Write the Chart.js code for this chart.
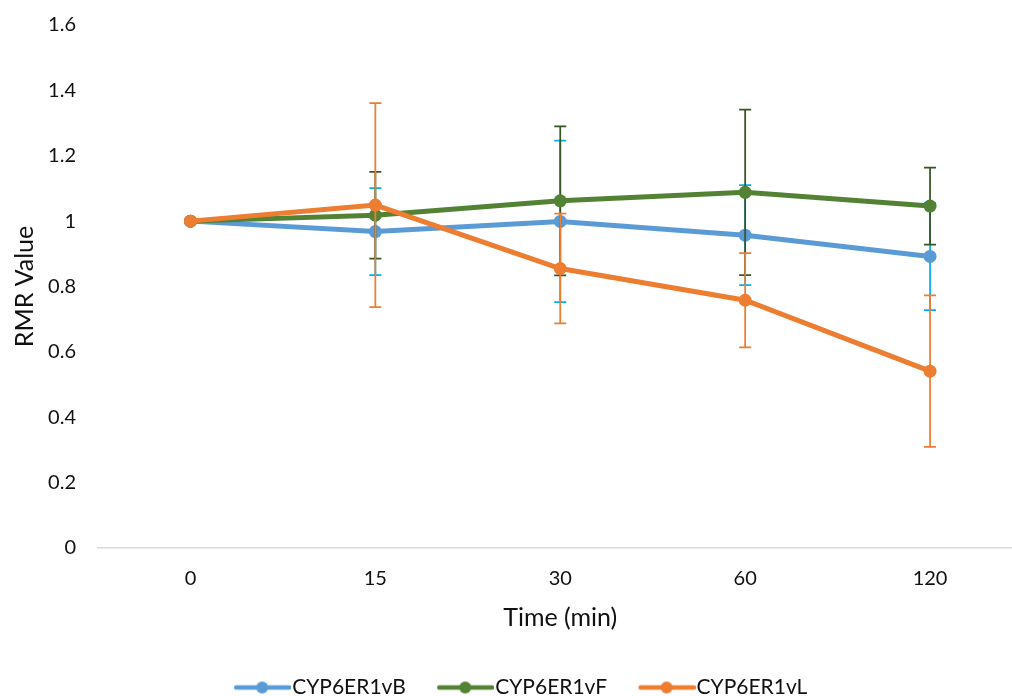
<!DOCTYPE html>
<html>
<head>
<meta charset="utf-8">
<script src="https://cdn.jsdelivr.net/npm/chart.js@4.4.1/dist/chart.umd.min.js"></script>
<style>
  html, body { margin: 0; padding: 0; background: #ffffff; overflow: hidden; width: 1012px; height: 696px; }
  #c { display: block; margin-top: -9px; }
</style>
</head>
<body>
<canvas id="c" width="1029" height="717"></canvas>
<script>
// ---- data ----
const categories = ['0', '15', '30', '60', '120'];
const seriesNames = ['CYP6ER1vB', 'CYP6ER1vF', 'CYP6ER1vL'];
const valuesB = [1.0, 0.968, 0.999, 0.957, 0.892];
const valuesF = [1.0, 1.018, 1.062, 1.088, 1.046];
const valuesL = [1.0, 1.049, 0.855, 0.758, 0.541];
const errorsB = [0, 0.133, 0.247, 0.153, 0.164];
const errorsF = [0, 0.133, 0.228, 0.253, 0.118];
const errorsL = [0, 0.312, 0.168, 0.144, 0.232];
const yTickValues = [0, 0.2, 0.4, 0.6, 0.8, 1, 1.2, 1.4, 1.6];
const yTickLabels = ['0', '0.2', '0.4', '0.6', '0.8', '1', '1.2', '1.4', '1.6'];
const xTitle = 'Time (min)';
const yTitle = 'RMR Value';

// ---- styles ----
const FONT = 'Lato, "Open Sans", sans-serif';
const TXT = '#111';
const lineColors = ['#5B9BD5', '#548235', '#ED7D31'];
const barColors = ['#00B0F0', '#375623', '#ED7D31'];
const allValues = [valuesB, valuesF, valuesL];
const allErrors = [errorsB, errorsF, errorsL];

function legendSymbol(color) {
  const cv = document.createElement('canvas');
  cv.width = 80; cv.height = 16;
  const g = cv.getContext('2d');
  g.strokeStyle = color; g.lineWidth = 4.5; g.lineCap = 'round';
  g.beginPath(); g.moveTo(25, 8); g.lineTo(78, 8); g.stroke();
  g.fillStyle = color;
  g.beginPath(); g.arc(51, 8, 6, 0, Math.PI * 2); g.fill();
  return cv;
}
const symbols = lineColors.map(legendSymbol);

const errorBarPlugin = {
  id: 'errorBars',
  beforeDatasetDraw(chart, args) {
    const i = args.index;
    const errs = allErrors[i];
    const vals = allValues[i];
    const xs = chart.scales.x, ys = chart.scales.y;
    const ctx = chart.ctx;
    ctx.save();
    ctx.strokeStyle = barColors[i];
    ctx.lineWidth = 1.75;
    for (let k = 0; k < vals.length; k++) {
      if (!errs[k]) continue;
      const x = xs.getPixelForValue(k);
      const yt = ys.getPixelForValue(vals[k] + errs[k]);
      const yb = ys.getPixelForValue(vals[k] - errs[k]);
      ctx.beginPath();
      ctx.moveTo(x, yt); ctx.lineTo(x, yb);
      ctx.moveTo(x - 6, yt); ctx.lineTo(x + 6, yt);
      ctx.moveTo(x - 6, yb); ctx.lineTo(x + 6, yb);
      ctx.stroke();
    }
    ctx.restore();
  }
};

const datasets = seriesNames.map((name, i) => ({
  label: name,
  data: allValues[i],
  borderColor: lineColors[i],
  backgroundColor: lineColors[i],
  borderWidth: 5,
  pointRadius: 6.5,
  pointHoverRadius: 6.5,
  pointBorderWidth: 0,
  pointBackgroundColor: lineColors[i],
  tension: 0,
  order: 2 - i
}));

new Chart(document.getElementById('c'), {
  type: 'line',
  data: { labels: categories, datasets },
  plugins: [errorBarPlugin],
  options: {
    responsive: false,
    animation: false,
    devicePixelRatio: 1,
    layout: { padding: { left: 0, right: 1, top: 5, bottom: 0 } },
    plugins: {
      tooltip: { enabled: false },
      legend: {
        position: 'bottom',
        labels: {
          font: { family: FONT, size: 21 },
          color: TXT,
          usePointStyle: true,
          pointStyleWidth: 61,
          padding: 18,
          generateLabels(chart) {
            return seriesNames.map((n, i) => ({
              text: n, datasetIndex: i, pointStyle: symbols[i],
              fillStyle: lineColors[i], strokeStyle: lineColors[i], lineWidth: 0,
              fontColor: TXT, hidden: false
            }));
          }
        }
      }
    },
    scales: {
      x: {
        offset: true,
        grid: { display: false, drawTicks: false },
        border: { display: true, color: '#D9D9D9', width: 1.5 },
        ticks: { font: { family: FONT, size: 20 }, color: TXT, padding: 19 },
        title: { display: true, text: xTitle, font: { family: FONT, size: 25 }, color: TXT, padding: { top: 0, bottom: 26 } },
        afterFit(scale) { scale.height = 111; }
      },
      y: {
        min: 0, max: 1.6,
        afterBuildTicks(scale) { scale.ticks = yTickValues.map(v => ({ value: v })); },
        grid: { display: false, drawTicks: false },
        border: { display: false },
        ticks: {
          font: { family: FONT, size: 20 }, color: TXT, padding: 22,
          callback(v) { const j = yTickValues.indexOf(v); return j >= 0 ? yTickLabels[j] : ''; }
        },
        title: { display: true, text: yTitle, font: { family: FONT, size: 25 }, color: TXT, padding: { top: 10, bottom: 0 } },
        afterFit(scale) { scale.width = 98; }
      }
    }
  }
});
</script>
</body>
</html>
